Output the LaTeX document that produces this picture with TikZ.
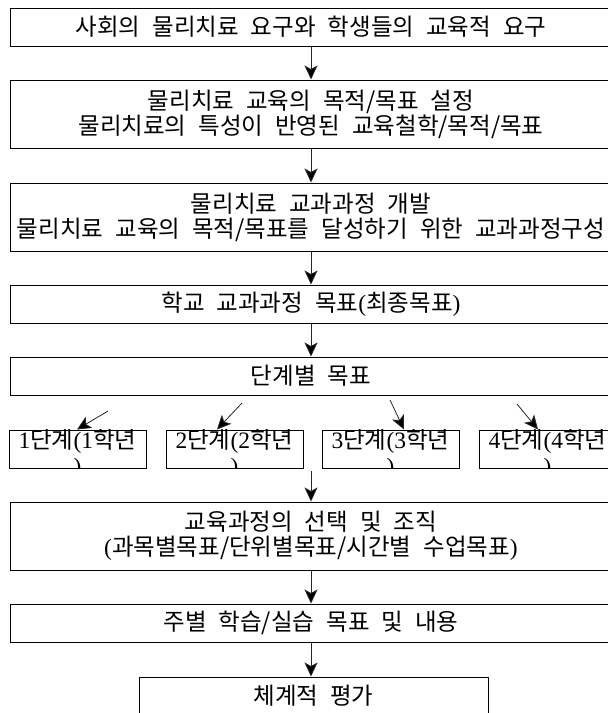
\documentclass[tikz,border=0pt]{standalone}
\usepackage{fontspec}
\setmainfont{Noto Sans CJK KR}
\newfontfamily\latf{Liberation Serif}
\newcommand\lat[1]{{\latf #1}}
\newcommand\krfont{\fontsize{23.5}{25}\selectfont\spaceskip=12pt\relax}
\usetikzlibrary{arrows.meta,calc}
\begin{document}
\begin{tikzpicture}[x=1pt,y=-1pt,
  box/.style={draw, line width=1pt, inner sep=0pt, minimum width=602pt, align=center, font=\krfont},
  stagebox/.style={draw, line width=1pt, inner sep=0pt, minimum width=137pt, minimum height=38pt},
  stagetext/.style={inner sep=0pt, font=\krfont},
  arr/.style={line width=0.8pt, draw=black!85, -{Stealth[length=14pt,width=13pt,inset=3.5pt,fill=black]}}
]
\useasboundingbox (0,0) rectangle (608,713);
\fill[white] (0,0) rectangle (608,713);
\clip (0,0) rectangle (608,713);

\node[box, minimum height=38pt] (b1) at (311,27) {사회의 물리치료 요구와 학생들의 교육적 요구};
\node[box, minimum height=68pt] (b2) at (311,114) {물리치료 교육의 목적/목표 설정\\물리치료의 특성이 반영된 교육철학/목적/목표};
\node[box, minimum height=68pt] (b3) at (311,217) {물리치료 교과과정 개발\\물리치료 교육의 목적/목표를 달성하기 위한 교과과정구성};
\node[box, minimum height=38pt] (b4) at (311,304) {학교 교과과정 목표\lat{(}최종목표\lat{)}};
\node[box, minimum height=38pt] (b5) at (311,376) {단계별 목표};

\node[stagebox] (s1) at (77.5,449) {};
\node[stagebox] (s2) at (234.5,449) {};
\node[stagebox] (s3) at (390.5,449) {};
\node[stagebox] (s4) at (547.5,449) {};
\foreach \s/\n in {s1/1,s2/2,s3/3,s4/4}{
  \begin{scope}
    \clip (\s.north west) rectangle (\s.south east);
    \node[stagetext, anchor=base] (\s a) at ($(\s.north)+(0,19)$) {\lat{\n}단계\lat{(\n}학년};
    \node[stagetext, anchor=base] (\s b) at ($(\s.north)+(0,45)$) {\lat{)}};
  \end{scope}
}

\node[box, minimum height=68pt] (b6) at (311,536) {교육과정의 선택 및 조직\\\lat{(}과목별목표/단위별목표/시간별 수업목표\lat{)}};
\node[box, minimum height=38pt] (b7) at (311,623) {주별 학습/실습 목표 및 내용};
\node[box, minimum height=38pt, minimum width=349pt] (b8) at (313.5,696) {체계적 평가};

\draw[arr] (b1) -- (b2);
\draw[arr] (b2) -- (b3);
\draw[arr] (b3) -- (b4);
\draw[arr] (b4) -- (b5);

\coordinate (d1) at (108,411);
\coordinate (d2) at (242,403);
\coordinate (d3) at (390,400);
\coordinate (d4) at (517,404);
\draw[arr] (d1) -- ([xshift=-0.5pt]s1.north);
\draw[arr] (d2) -- ([xshift=-17.5pt]s2.north);
\draw[arr] (d3) -- ([xshift=13.5pt]s3.north);
\draw[arr] (d4) -- ([xshift=-9.5pt]s4.north);

\coordinate (rowb) at (311,471);
\draw[arr] (rowb) -- (b6.north);
\draw[arr] (b6) -- (b7);
\draw[arr] (b7.south) -- (b7.south |- b8.north);
\end{tikzpicture}
\end{document}
